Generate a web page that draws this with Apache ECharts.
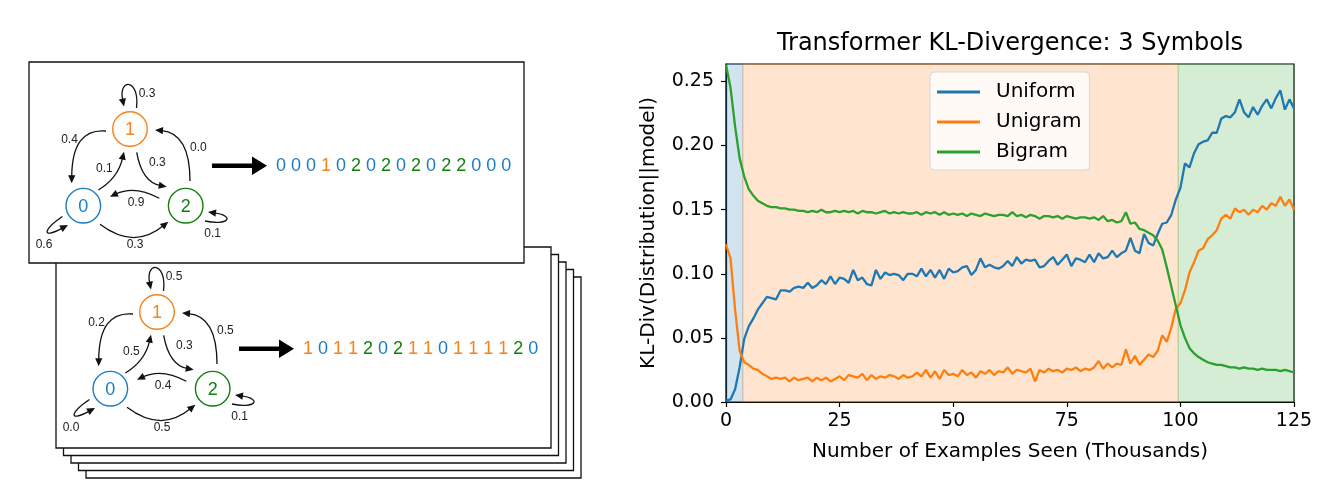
<!DOCTYPE html>
<html>
<head>
    <meta charset="utf-8" />
    <title>Transformer KL-Divergence: 3 Symbols</title>
    <style>
        body {
            margin: 0;
            padding: 0;
            background: #fff;
        }

        #main {
            width: 1330px;
            height: 492px;
        }
    </style>
</head>
<body>
<div id="main"></div>
<script src="https://cdn.jsdelivr.net/npm/echarts@6.0.0/dist/echarts.min.js"></script>
<script>
    // sample spacing, thousands of examples
    var stepK = 1;

    var uniform = [
        0.001, 0.002, 0.010, 0.027, 0.049, 0.059, 0.065, 0.072, 0.077, 0.082,
        0.081, 0.080, 0.087, 0.087, 0.086, 0.089, 0.090, 0.089, 0.093, 0.089,
        0.091, 0.095, 0.092, 0.098, 0.092, 0.097, 0.096, 0.093, 0.103, 0.095,
        0.097, 0.092, 0.091, 0.103, 0.096, 0.101, 0.099, 0.100, 0.099, 0.095,
        0.100, 0.100, 0.098, 0.104, 0.098, 0.103, 0.097, 0.103, 0.096, 0.104,
        0.101, 0.102, 0.105, 0.106, 0.099, 0.103, 0.112, 0.105, 0.107, 0.105,
        0.104, 0.106, 0.110, 0.106, 0.113, 0.108, 0.111, 0.110, 0.111, 0.105,
        0.106, 0.110, 0.113, 0.107, 0.111, 0.115, 0.106, 0.112, 0.111, 0.109,
        0.115, 0.109, 0.116, 0.112, 0.113, 0.118, 0.113, 0.116, 0.118, 0.128,
        0.118, 0.116, 0.131, 0.124, 0.122, 0.131, 0.139, 0.140, 0.146, 0.158,
        0.167, 0.186, 0.183, 0.194, 0.201, 0.203, 0.204, 0.210, 0.210, 0.221,
        0.223, 0.222, 0.226, 0.236, 0.226, 0.222, 0.230, 0.224, 0.231, 0.236,
        0.229, 0.237, 0.243, 0.228, 0.236, 0.229
    ];
    var unigram = [
        0.123, 0.112, 0.072, 0.040, 0.031, 0.029, 0.026, 0.025, 0.022, 0.020,
        0.018, 0.019, 0.018, 0.019, 0.016, 0.019, 0.017, 0.018, 0.019, 0.016,
        0.019, 0.017, 0.019, 0.016, 0.018, 0.020, 0.017, 0.021, 0.020, 0.019,
        0.022, 0.017, 0.021, 0.018, 0.020, 0.019, 0.021, 0.020, 0.018, 0.021,
        0.019, 0.020, 0.023, 0.020, 0.025, 0.019, 0.024, 0.018, 0.025, 0.021,
        0.022, 0.020, 0.025, 0.021, 0.023, 0.019, 0.024, 0.022, 0.025, 0.021,
        0.024, 0.023, 0.027, 0.022, 0.025, 0.024, 0.023, 0.026, 0.016, 0.025,
        0.023, 0.026, 0.024, 0.025, 0.023, 0.026, 0.025, 0.027, 0.024, 0.026,
        0.025, 0.027, 0.032, 0.026, 0.030, 0.027, 0.030, 0.029, 0.041, 0.030,
        0.036, 0.029, 0.033, 0.037, 0.035, 0.040, 0.052, 0.047, 0.058, 0.073,
        0.077, 0.087, 0.101, 0.109, 0.118, 0.120, 0.127, 0.130, 0.134, 0.143,
        0.146, 0.143, 0.151, 0.148, 0.150, 0.146, 0.150, 0.148, 0.153, 0.150,
        0.155, 0.153, 0.160, 0.153, 0.158, 0.150
    ];
    var bigram = [
        0.263, 0.245, 0.215, 0.190, 0.176, 0.166, 0.161, 0.157, 0.155, 0.153,
        0.152, 0.152, 0.151, 0.151, 0.150, 0.150, 0.149, 0.149, 0.148, 0.149,
        0.148, 0.150, 0.148, 0.148, 0.149, 0.148, 0.149, 0.148, 0.149, 0.147,
        0.149, 0.148, 0.148, 0.147, 0.148, 0.149, 0.147, 0.148, 0.147, 0.148,
        0.147, 0.147, 0.148, 0.146, 0.148, 0.147, 0.148, 0.146, 0.148, 0.146,
        0.147, 0.146, 0.147, 0.145, 0.147, 0.146, 0.145, 0.147, 0.146, 0.145,
        0.146, 0.146, 0.145, 0.148, 0.145, 0.146, 0.144, 0.146, 0.145, 0.143,
        0.145, 0.145, 0.144, 0.145, 0.143, 0.145, 0.144, 0.143, 0.144, 0.144,
        0.143, 0.144, 0.142, 0.145, 0.141, 0.142, 0.140, 0.141, 0.148, 0.139,
        0.140, 0.135, 0.134, 0.132, 0.130, 0.126, 0.119, 0.105, 0.090, 0.075,
        0.060, 0.050, 0.042, 0.038, 0.035, 0.033, 0.031, 0.030, 0.029, 0.029,
        0.028, 0.027, 0.027, 0.026, 0.027, 0.026, 0.026, 0.025, 0.026, 0.025,
        0.025, 0.025, 0.024, 0.025, 0.024, 0.023
    ];

    var seriesNames = ['Uniform', 'Unigram', 'Bigram'];
    var yTicks = [0, 0.05, 0.10, 0.15, 0.20, 0.25];
    var xTicks = [0, 25, 50, 75, 100, 125];
    // shaded training phases [start, end] in thousands
    var phaseBounds = [[0, 3.7], [3.7, 99.5], [99.5, 125]];

    // the two example chains: edge probabilities and sampled sequences
    var chainProbs = [
        { loop1: '0.3', p10: '0.4', p01: '0.1', p12: '0.3', p21: '0.0', p20: '0.9', p02: '0.3', loop0: '0.6', loop2: '0.1' },
        { loop1: '0.5', p10: '0.2', p01: '0.5', p12: '0.3', p21: '0.5', p20: '0.4', p02: '0.5', loop0: '0.0', loop2: '0.1' }
    ];
    var chainSeqs = ['0001020202022000', '1011202110111120'];

    var tab = ['#1f77b4', '#ff7f0e', '#2ca02c'];
    var nodeCol = ['#1b7dc4', '#f7821b', '#12800f'];
    var font = 'DejaVu Sans';

    // diagram layout (top card coordinates)
    var nodePos = [[83.3, 205.7], [130, 129], [185.7, 205.7]];
    var edgeGeo = [
        { key: 'loop1', p: [[136.5, 108], [140, 78], [118, 78], [124, 106.5]], lab: [147, 94] },
        { key: 'p10', p: [[106, 131], [72, 128], [71.7, 183.3]], lab: [69.5, 139.3] },
        { key: 'p01', p: [[98.3, 190], [118, 178], [124, 151.7]], lab: [104.3, 168.3] },
        { key: 'p12', p: [[136.7, 152.3], [142, 182], [166.7, 186.7]], lab: [157.3, 162.3] },
        { key: 'p21', p: [[190, 181], [190, 133], [155, 130]], lab: [198.3, 147.7] },
        { key: 'p20', p: [[159.3, 198.3], [135, 185], [110, 196.7]], lab: [136, 202.7] },
        { key: 'p02', p: [[100, 224.3], [134, 250], [168.3, 221.7]], lab: [135, 245] },
        { key: 'loop0', p: [[62.5, 216.5], [44, 229], [40, 240], [68, 225]], lab: [44, 244.3] },
        { key: 'loop2', p: [[205, 221], [228, 226], [236, 216], [208, 212]], lab: [212.7, 234] }
    ];

    function arrowEdge(pts, dx, dy) {
        var n = pts.length;
        var end = pts[n - 1], prev = pts[n - 2];
        var vx = end[0] - prev[0], vy = end[1] - prev[1];
        var len = Math.sqrt(vx * vx + vy * vy);
        vx /= len; vy /= len;
        var L = 8, W = 3.6;
        var bx = end[0] - vx * L, by = end[1] - vy * L;
        var shape = {
            x1: pts[0][0] + dx, y1: pts[0][1] + dy,
            x2: bx + vx * 1.5 + dx, y2: by + vy * 1.5 + dy,
            cpx1: pts[1][0] + dx, cpy1: pts[1][1] + dy
        };
        if (n === 4) {
            shape.cpx2 = pts[2][0] + dx;
            shape.cpy2 = pts[2][1] + dy;
        }
        return [
            { type: 'bezierCurve', shape: shape, style: { stroke: '#111', lineWidth: 1.3, fill: null } },
            {
                type: 'polygon',
                shape: {
                    points: [
                        [end[0] + dx, end[1] + dy],
                        [bx - vy * W + dx, by + vx * W + dy],
                        [bx + vy * W + dx, by - vx * W + dy]
                    ]
                },
                style: { fill: '#111' }
            }
        ];
    }

    function chainDiagram(dx, dy, probs, seq) {
        var els = [];
        edgeGeo.forEach(function (e) {
            els = els.concat(arrowEdge(e.p, dx, dy));
            els.push({
                type: 'text',
                style: {
                    text: probs[e.key], x: e.lab[0] + dx, y: e.lab[1] + dy,
                    align: 'center', verticalAlign: 'middle',
                    fill: '#222', fontSize: 12, fontFamily: 'Liberation Sans'
                }
            });
        });
        nodePos.forEach(function (p, i) {
            els.push({
                type: 'circle',
                shape: { cx: p[0] + dx, cy: p[1] + dy, r: 17.3 },
                style: { fill: '#fff', stroke: nodeCol[i], lineWidth: 1.4 }
            });
            els.push({
                type: 'text',
                style: {
                    text: String(i), x: p[0] + dx, y: p[1] + dy + 1,
                    align: 'center', verticalAlign: 'middle',
                    fill: nodeCol[i], fontSize: 18, fontFamily: 'Liberation Sans'
                }
            });
        });
        // big arrow towards the sampled sequence
        els.push({
            type: 'polygon',
            shape: {
                points: [[212 + dx, 163.5 + dy], [252 + dx, 163.5 + dy], [252 + dx, 156.5 + dy],
                    [267 + dx, 165.7 + dy], [252 + dx, 175 + dy], [252 + dx, 168 + dy], [212 + dx, 168 + dy]]
            },
            style: { fill: '#000' }
        });
        var styleKey = { '0': 'b', '1': 'o', '2': 'g' };
        var txt = seq.split('').map(function (c) {
            return '{' + styleKey[c] + '|' + c + '}';
        }).join(' ');
        els.push({
            type: 'text',
            style: {
                text: txt, x: 276 + dx, y: 166 + dy,
                align: 'left', verticalAlign: 'middle',
                fontSize: 18, fontFamily: 'Liberation Sans',
                rich: {
                    b: { fill: nodeCol[0], fontSize: 18, fontFamily: 'Liberation Sans' },
                    o: { fill: nodeCol[1], fontSize: 18, fontFamily: 'Liberation Sans' },
                    g: { fill: nodeCol[2], fontSize: 18, fontFamily: 'Liberation Sans' }
                }
            }
        });
        return els;
    }

    function card(x, y) {
        return {
            type: 'rect',
            shape: { x: x, y: y, width: 495, height: 201 },
            style: { fill: '#fff', stroke: '#111', lineWidth: 1.3 }
        };
    }

    // stack of cards, back to front, then the top card
    var graphics = [];
    for (var i = 4; i >= 0; i--) {
        graphics.push(card(56 + 7.5 * i, 247 + 7.5 * i));
    }
    graphics = graphics.concat(chainDiagram(27, 183, chainProbs[1], chainSeqs[1]));
    graphics.push(card(29, 62));
    graphics = graphics.concat(chainDiagram(0, 0, chainProbs[0], chainSeqs[0]));
    graphics.push({
        type: 'text',
        style: {
            text: 'Transformer KL-Divergence: 3 Symbols', x: 1010, y: 44,
            align: 'center', verticalAlign: 'middle',
            fill: '#000', fontSize: 24, fontFamily: font
        }
    });

    function toPairs(vals) {
        return vals.map(function (v, i) {
            return [i * stepK, v];
        });
    }

    var phaseColors = ['31,119,180', '255,127,14', '44,160,44'];
    var areaData = phaseBounds.map(function (b, i) {
        return [{
            xAxis: b[0],
            itemStyle: {
                color: 'rgba(' + phaseColors[i] + ',0.2)',
                borderColor: 'rgba(' + phaseColors[i] + ',0.25)',
                borderWidth: 1
            }
        }, { xAxis: b[1] }];
    });

    var seriesVals = [uniform, unigram, bigram];
    var series = seriesVals.map(function (vals, i) {
        var s = {
            name: seriesNames[i],
            type: 'line',
            data: toPairs(vals),
            showSymbol: false,
            symbol: 'none',
            clip: true,
            lineStyle: { color: tab[i], width: 2.3 },
            itemStyle: { color: tab[i] },
            z: 3
        };
        if (i === 0) {
            s.markArea = { silent: true, label: { show: false }, data: areaData };
        }
        return s;
    });

    var chart = echarts.init(document.getElementById('main'));
    chart.setOption({
        animation: false,
        backgroundColor: '#fff',
        grid: {
            left: 726, top: 64, width: 568, height: 338,
            show: true, borderColor: '#000', borderWidth: 1.2, backgroundColor: 'transparent'
        },
        legend: {
            data: seriesNames,
            orient: 'vertical',
            left: 930, top: 72,
            icon: 'rect',
            itemWidth: 43, itemHeight: 3, itemGap: 8,
            padding: [9, 8, 7, 7],
            backgroundColor: 'rgba(255,255,255,0.8)',
            borderColor: '#d6d6d6', borderWidth: 1, borderRadius: 4,
            textStyle: { fontFamily: font, fontSize: 20, color: '#000', padding: [0, 0, 0, 11], lineHeight: 22 }
        },
        xAxis: {
            type: 'value', min: 0, max: 125, interval: 25,
            name: 'Number of Examples Seen (Thousands)',
            nameLocation: 'middle', nameGap: 40,
            nameTextStyle: { fontFamily: font, fontSize: 20, color: '#000' },
            axisLine: { lineStyle: { color: '#000', width: 1.2 } },
            axisTick: { length: 5, lineStyle: { color: '#000', width: 1.2 }, customValues: xTicks },
            axisLabel: { fontFamily: font, fontSize: 19, color: '#000', margin: 10, customValues: xTicks },
            splitLine: { show: false }
        },
        yAxis: {
            type: 'value', min: 0, max: 0.2636, interval: 0.05,
            name: 'KL-Div(Distribution||model)',
            nameLocation: 'middle', nameGap: 67, nameRotate: 90,
            nameTextStyle: { fontFamily: font, fontSize: 20, color: '#000' },
            axisLine: { lineStyle: { color: '#000', width: 1.2 } },
            axisTick: { length: 5, lineStyle: { color: '#000', width: 1.2 }, customValues: yTicks },
            axisLabel: {
                fontFamily: font, fontSize: 19, color: '#000', margin: 12, customValues: yTicks,
                formatter: function (v) { return v.toFixed(2); }
            },
            splitLine: { show: false }
        },
        graphic: graphics,
        series: series
    });
</script>
</body>
</html>
